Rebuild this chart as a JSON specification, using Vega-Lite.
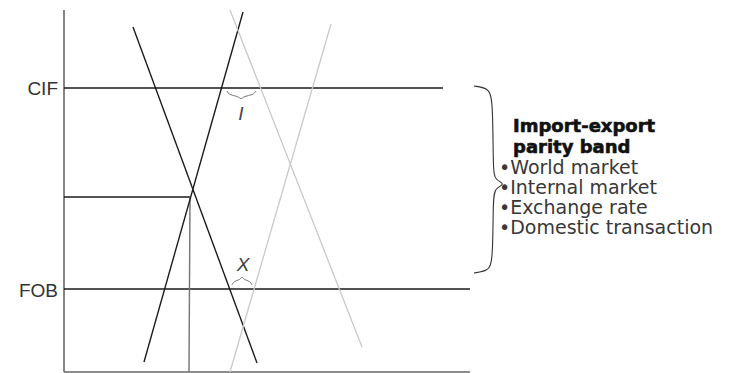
{
  "$schema": "https://vega.github.io/schema/vega-lite/v6.json",
  "autosize": {"type": "fit", "contains": "padding"},
  "width": 751,
  "height": 373,
  "padding": 0,
  "background": "white",
  "config": {"view": {"stroke": null}},
  "datasets": {
    "segments": [
      {"name": "y-axis", "kind": "axis", "x": 64, "y": 10, "x2": 64, "y2": 372},
      {"name": "x-axis", "kind": "axis", "x": 64, "y": 372, "x2": 470, "y2": 372},
      {"name": "CIF", "kind": "price", "x": 64, "y": 88, "x2": 443, "y2": 88},
      {"name": "FOB", "kind": "price", "x": 64, "y": 289, "x2": 470, "y2": 289},
      {"name": "equilibrium price", "kind": "price", "x": 64, "y": 197, "x2": 190, "y2": 197},
      {"name": "equilibrium quantity", "kind": "drop", "x": 190, "y": 197, "x2": 189, "y2": 372},
      {"name": "demand", "kind": "curve", "x": 133, "y": 27, "x2": 257, "y2": 363},
      {"name": "supply", "kind": "curve", "x": 243, "y": 12, "x2": 144, "y2": 362},
      {"name": "demand shifted", "kind": "shifted", "x": 230, "y": 10, "x2": 362, "y2": 347},
      {"name": "supply shifted", "kind": "shifted", "x": 331, "y": 24, "x2": 230, "y2": 372}
    ],
    "braces": [
      {"brace": "I", "i": 0, "x": 227, "y": 91},
      {"brace": "I", "i": 1, "x": 229, "y": 95},
      {"brace": "I", "i": 2, "x": 238, "y": 96},
      {"brace": "I", "i": 3, "x": 241, "y": 100},
      {"brace": "I", "i": 4, "x": 244, "y": 96},
      {"brace": "I", "i": 5, "x": 253, "y": 95},
      {"brace": "I", "i": 6, "x": 256, "y": 91},
      {"brace": "X", "i": 0, "x": 232, "y": 285},
      {"brace": "X", "i": 1, "x": 234, "y": 281},
      {"brace": "X", "i": 2, "x": 240, "y": 280},
      {"brace": "X", "i": 3, "x": 242, "y": 276},
      {"brace": "X", "i": 4, "x": 244, "y": 280},
      {"brace": "X", "i": 5, "x": 250, "y": 281},
      {"brace": "X", "i": 6, "x": 252, "y": 285}
    ],
    "band": [
      {"i": 0, "x": 474, "y": 86},
      {"i": 1, "x": 488, "y": 88},
      {"i": 2, "x": 493, "y": 98},
      {"i": 3, "x": 493, "y": 170},
      {"i": 4, "x": 495, "y": 180},
      {"i": 5, "x": 506, "y": 184},
      {"i": 6, "x": 495, "y": 188},
      {"i": 7, "x": 493, "y": 198},
      {"i": 8, "x": 493, "y": 262},
      {"i": 9, "x": 488, "y": 271},
      {"i": 10, "x": 474, "y": 273}
    ],
    "labels": [
      {"text": "CIF", "style": "axis", "x": 58, "y": 89},
      {"text": "FOB", "style": "axis", "x": 58, "y": 291},
      {"text": "Import-export", "style": "bold", "x": 513, "y": 127},
      {"text": "parity band", "style": "bold", "x": 513, "y": 148},
      {"text": "•World market", "style": "item", "x": 499, "y": 168},
      {"text": "•Internal market", "style": "item", "x": 499, "y": 188},
      {"text": "•Exchange rate", "style": "item", "x": 499, "y": 208},
      {"text": "•Domestic transaction", "style": "item", "x": 499, "y": 228},
      {"text": "I", "style": "mark", "x": 241, "y": 114},
      {"text": "X", "style": "mark", "x": 243, "y": 265}
    ]
  },
  "layer": [
    {
      "data": {"name": "segments"},
      "mark": {"type": "rule", "strokeCap": "butt"},
      "encoding": {
        "x": {"field": "x", "type": "quantitative", "scale": {"domain": [0, 751], "nice": false, "zero": false}, "axis": null},
        "y": {"field": "y", "type": "quantitative", "scale": {"domain": [0, 373], "nice": false, "zero": false, "reverse": true}, "axis": null},
        "x2": {"field": "x2"},
        "y2": {"field": "y2"},
        "color": {"field": "kind", "type": "nominal", "legend": null,
          "scale": {"domain": ["axis", "price", "drop", "curve", "shifted"], "range": ["#666666", "#1a1a1a", "#777777", "#1a1a1a", "#c9c9c9"]}},
        "strokeWidth": {"field": "kind", "type": "nominal", "legend": null,
          "scale": {"domain": ["axis", "price", "drop", "curve", "shifted"], "range": [1.6, 1.3, 1.4, 1.6, 1.6]}}
      }
    },
    {
      "data": {"name": "braces"},
      "mark": {"type": "line", "interpolate": "basis", "color": "#777777", "strokeWidth": 1},
      "encoding": {
        "x": {"field": "x", "type": "quantitative"},
        "y": {"field": "y", "type": "quantitative"},
        "detail": {"field": "brace"},
        "order": {"field": "i"}
      }
    },
    {
      "data": {"name": "band"},
      "mark": {"type": "line", "interpolate": "basis", "color": "#333333", "strokeWidth": 1.1},
      "encoding": {
        "x": {"field": "x", "type": "quantitative"},
        "y": {"field": "y", "type": "quantitative"},
        "order": {"field": "i"}
      }
    },
    {
      "data": {"name": "labels"},
      "transform": [{"filter": "datum.style == 'axis'"}],
      "mark": {"type": "text", "align": "right", "baseline": "middle", "font": "Liberation Sans", "fontSize": 19, "color": "#333333"},
      "encoding": {
        "x": {"field": "x", "type": "quantitative"},
        "y": {"field": "y", "type": "quantitative"},
        "text": {"field": "text"}
      }
    },
    {
      "data": {"name": "labels"},
      "transform": [{"filter": "datum.style == 'bold'"}],
      "mark": {"type": "text", "align": "left", "baseline": "middle", "font": "DejaVu Sans", "fontWeight": "bold", "fontSize": 18, "color": "#111111", "stroke": "#111111", "strokeWidth": 0.6},
      "encoding": {
        "x": {"field": "x", "type": "quantitative"},
        "y": {"field": "y", "type": "quantitative"},
        "text": {"field": "text"}
      }
    },
    {
      "data": {"name": "labels"},
      "transform": [{"filter": "datum.style == 'item'"}],
      "mark": {"type": "text", "align": "left", "baseline": "middle", "font": "DejaVu Sans", "fontSize": 19, "color": "#383838"},
      "encoding": {
        "x": {"field": "x", "type": "quantitative"},
        "y": {"field": "y", "type": "quantitative"},
        "text": {"field": "text"}
      }
    },
    {
      "data": {"name": "labels"},
      "transform": [{"filter": "datum.style == 'mark'"}],
      "mark": {"type": "text", "align": "center", "baseline": "middle", "font": "Liberation Sans", "fontStyle": "italic", "fontSize": 19, "color": "#444444"},
      "encoding": {
        "x": {"field": "x", "type": "quantitative"},
        "y": {"field": "y", "type": "quantitative"},
        "text": {"field": "text"}
      }
    }
  ]
}
